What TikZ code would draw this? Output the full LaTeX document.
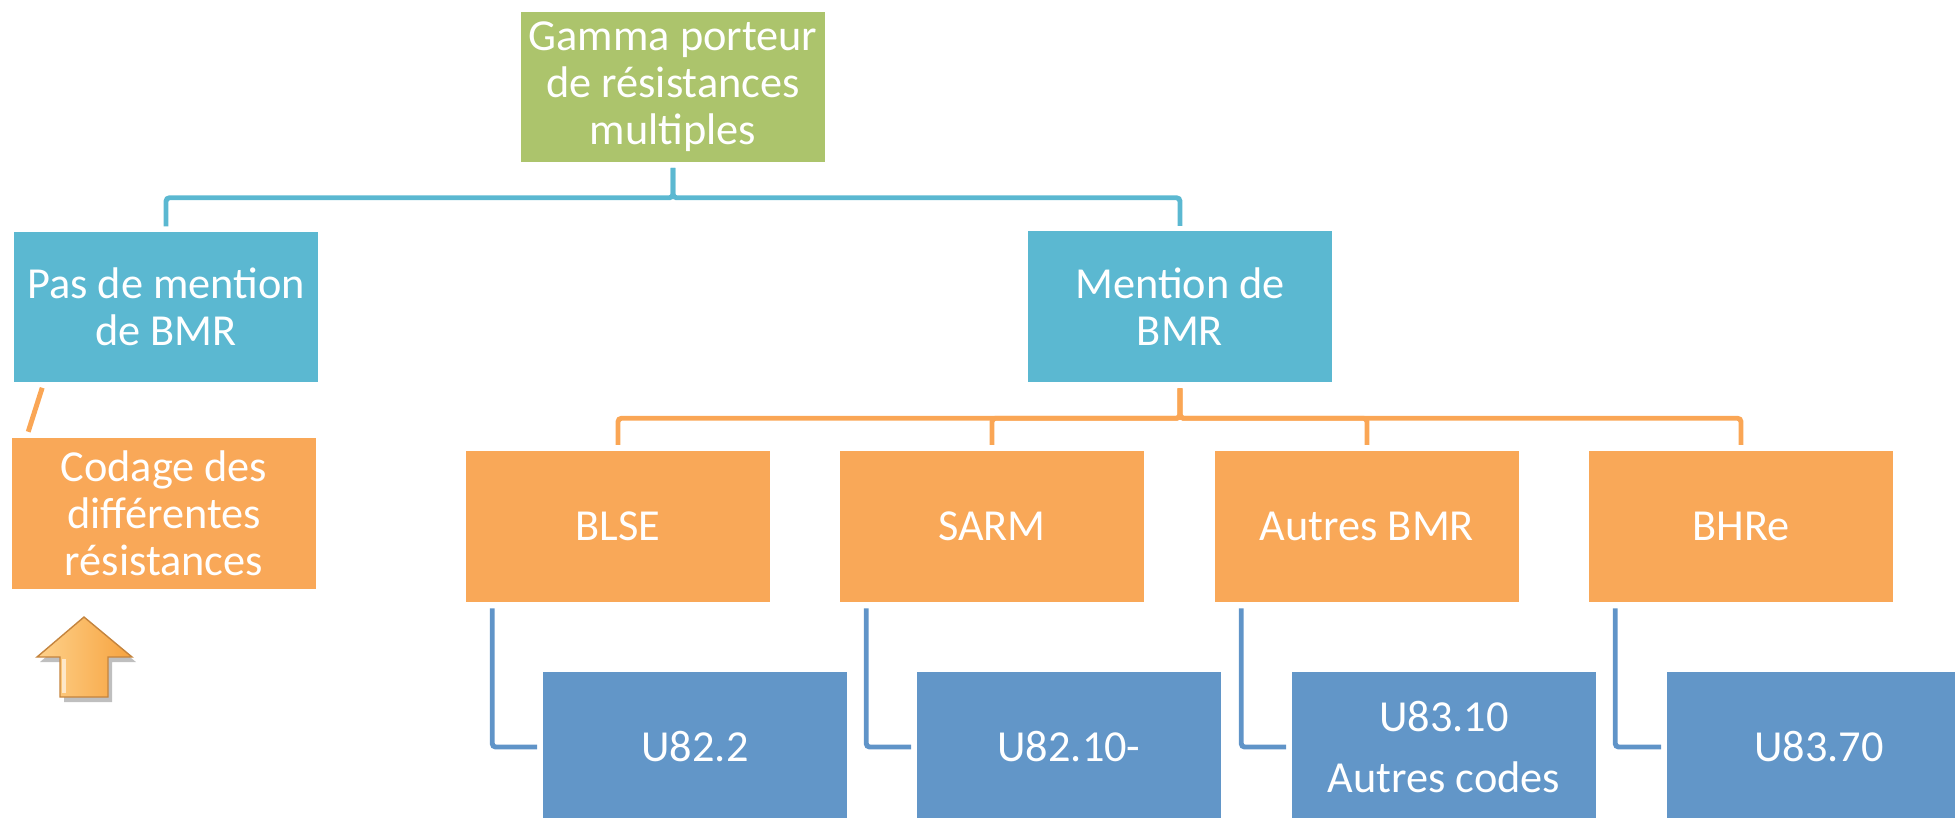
\documentclass[tikz,border=0pt]{standalone}
\usepackage{fontspec}
\setmainfont{Carlito}
\usetikzlibrary{calc}

\definecolor{gammagreen}{RGB}{172,196,108}
\definecolor{bmraqua}{RGB}{91,184,209}
\definecolor{resorange}{RGB}{249,168,88}
\definecolor{codeblue}{RGB}{98,150,200}
\definecolor{linkorange}{RGB}{250,166,85}
\definecolor{linkblue}{RGB}{96,148,200}
\definecolor{arrowlight}{RGB}{254,210,140}
\definecolor{arrowdark}{RGB}{246,162,62}
\definecolor{arrowedge}{RGB}{196,132,62}

\tikzset{
  box/.style={minimum width=3.04cm, minimum height=1.50cm, inner sep=0pt,
    align=center, text=white, font=\fontsize{12.6pt}{13.4pt}\selectfont},
  gammabox/.style={box, fill=gammagreen},
  bmrbox/.style={box, fill=bmraqua},
  resbox/.style={box, fill=resorange},
  codebox/.style={box, fill=codeblue},
  aqualink/.style={line width=1.4pt, color=bmraqua, rounded corners=1pt},
  orangelink/.style={line width=1.4pt, color=linkorange, rounded corners=1pt},
  bluelink/.style={line width=1.4pt, color=linkblue, rounded corners=1pt},
}

\begin{document}
\begin{tikzpicture}[x=0.01cm, y=-0.01cm]
			%%%%% START %%%%%
			\useasboundingbox (0, 0) rectangle (1955, 817);
			\clip (0, 0) rectangle (1955, 817);
			
			\node[gammabox] (gamma) at (673, 87) {Gamma porteur\\de résistances\\multiples};
			
			\node[bmrbox] (pas) at (166, 307) {Pas de mention\\de BMR};
			\node[bmrbox] (mention) at (1180, 306.5) {Mention de\\BMR};
			
			\node[resbox] (codage) at (164, 513.5) {Codage des\\différentes\\résistances};
			
			\node[resbox] (blse) at (618, 526.5) {BLSE};
			\node[resbox] (sarm) at (992, 526.5) {SARM};
			\node[resbox] (autres) at (1367, 526.5) {Autres BMR};
			\node[resbox] (bhre) at (1741, 526.5) {BHRe};
			
			\node[codebox] (u1) at (695, 747) {U82.2};
			\node[codebox] (u2) at (1069, 747) {U82.10-};
			\node[codebox] (u3) at (1444, 747) {U83.10\\[4.2pt]Autres codes};
			\node[codebox] (u4) at (1819, 747) {U83.70};
			
			% top level
			\foreach \n in {pas, mention}
			\draw[aqualink] ($(gamma.south)+(0, 5)$) -- ($(gamma.south)+(0, 35)$) -| ($(\n.north)+(0, -5)$);
			
			% second level
			\foreach \n in {blse, sarm, autres, bhre}
			\draw[orangelink] ($(mention.south)+(0, 6)$) -- ($(mention.south)+(0, 36)$) -| ($(\n.north)+(0, -6)$);
			
			% codes
			\foreach \p/\c in {blse/u1, sarm/u2, autres/u3, bhre/u4}
			\draw[bluelink] ($(\p.south west)+(27, 6)$) |- ($(\c.west)+(-5, 0)$);
			
			\draw[orangelink, line cap=butt] ($(pas.south west)+(29, 5)$) -- ($(codage.north west)+(17, -6)$);
			
			% arrow
			\fill[black, opacity=0.25] (87, 622) -- (136, 662) -- (112, 662) -- (112, 702) -- (64, 702) -- (64, 662) -- (40, 662) -- cycle;
			\draw[arrowedge, line width=0.4pt, left color=arrowlight, right color=arrowdark]
			(84, 617) -- (132, 657) -- (108, 657) -- (108, 697) -- (60, 697) -- (60, 657) -- (37, 657) -- cycle;
			\draw[white, opacity=0.6, line width=1pt] (64, 659) -- (64, 693);
			
			%%%%% END %%%%%
		\end{tikzpicture}
\end{document}
